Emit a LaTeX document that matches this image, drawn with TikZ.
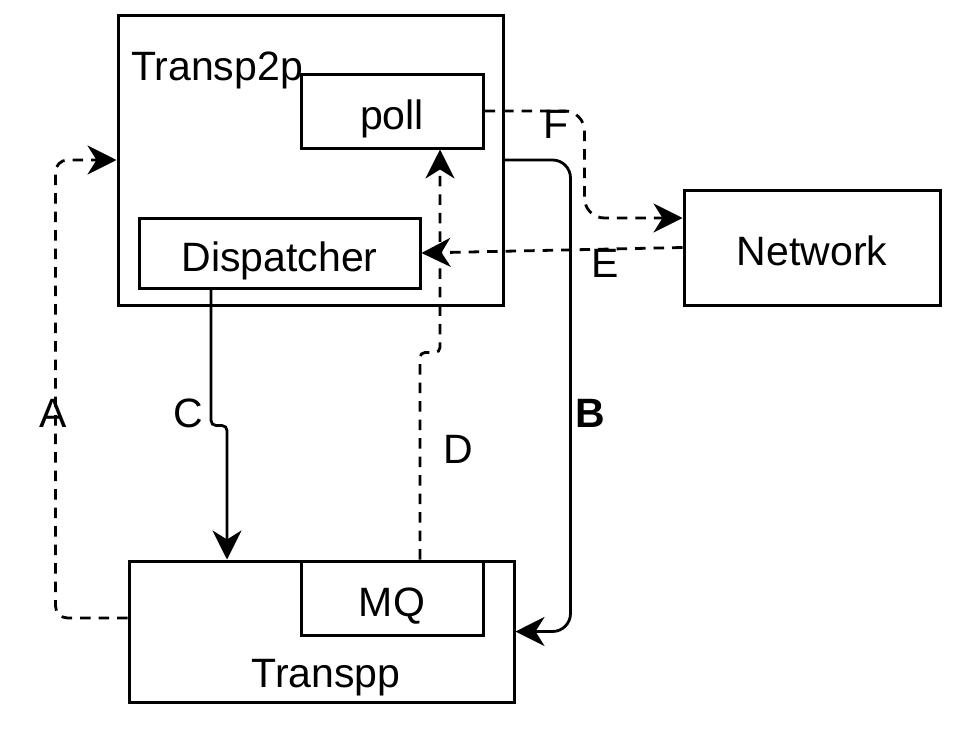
\documentclass[tikz,border=0pt]{standalone}
\usepackage{fontspec}
\setmainfont{Liberation Sans}
\usetikzlibrary{arrows.meta}

\begin{document}
\begin{tikzpicture}[
    x=1pt, y=-1pt,
    font=\fontsize{41}{49}\selectfont,
    blk/.style={
        draw, rectangle, inner sep=0pt, line width=3pt,
        text height=36pt, text depth=0pt
    },
    lbl/.style={
        anchor=base, inner sep=0pt
    },
    conn/.style={
        line width=2.8pt, rounded corners=12pt,
        -{Stealth[length=29pt, width=29pt, inset=9pt]}
    },
    dsh/.style={
        conn, dash pattern=on 10.5pt off 8pt
    },
]
    \useasboundingbox (0,0) rectangle (960,736);

    \node[blk, minimum width=385pt, minimum height=290pt](t2p) at (310.5,160) {};
    \node[lbl, anchor=base west](t2plbl) at (131,80) {Transp2p};
    \node[blk, minimum width=182pt, minimum height=74pt](poll) at (392,111) {poll};
    \node[blk, minimum width=281pt, minimum height=70pt](disp) at (279.5,253) {Dispatcher};
    \node[blk, minimum width=256pt, minimum height=115pt](net) at (812,247.5) {Network};
    \node[blk, minimum width=385pt, minimum height=141pt](tpp) at (321.5,631.5) {};
    \node[lbl](tpplbl) at (326,687) {Transpp};
    \node[blk, minimum width=182pt, minimum height=74pt](mq) at (392,598) {MQ};

    \draw[dsh] ([yshift=13.5pt]tpp.west) -| ([xshift=-61pt]t2p.west) -- (t2p.west);
    \draw[conn, rounded corners=18pt] (t2p.east) -| ([xshift=55pt]tpp.east) -- (tpp.east);
    \draw[conn, rounded corners=5pt] ([xshift=-68.5pt]disp.south) -- ++(0,136) -| ([xshift=-94.5pt]tpp.north);
    \draw[dsh, rounded corners=5pt] ([xshift=28pt]mq.north) -- ++(0,-207) -| ([xshift=48pt]poll.south);
    \draw[dsh] (net.west) -- (disp.east);
    \draw[dsh, rounded corners=20pt] (poll.east) -- ++(100,0) |- ([yshift=29.5pt]net.west);

    \node[lbl](labA) at (53,427) {A};
    \node[lbl, font=\fontsize{41}{49}\selectfont\bfseries](labB) at (590,427) {B};
    \node[lbl](labC) at (188,427) {C};
    \node[lbl](labD) at (458,463) {D};
    \node[lbl](labE) at (605,277) {E};
    \node[lbl](labF) at (556,138) {F};

\end{tikzpicture}
\end{document}
